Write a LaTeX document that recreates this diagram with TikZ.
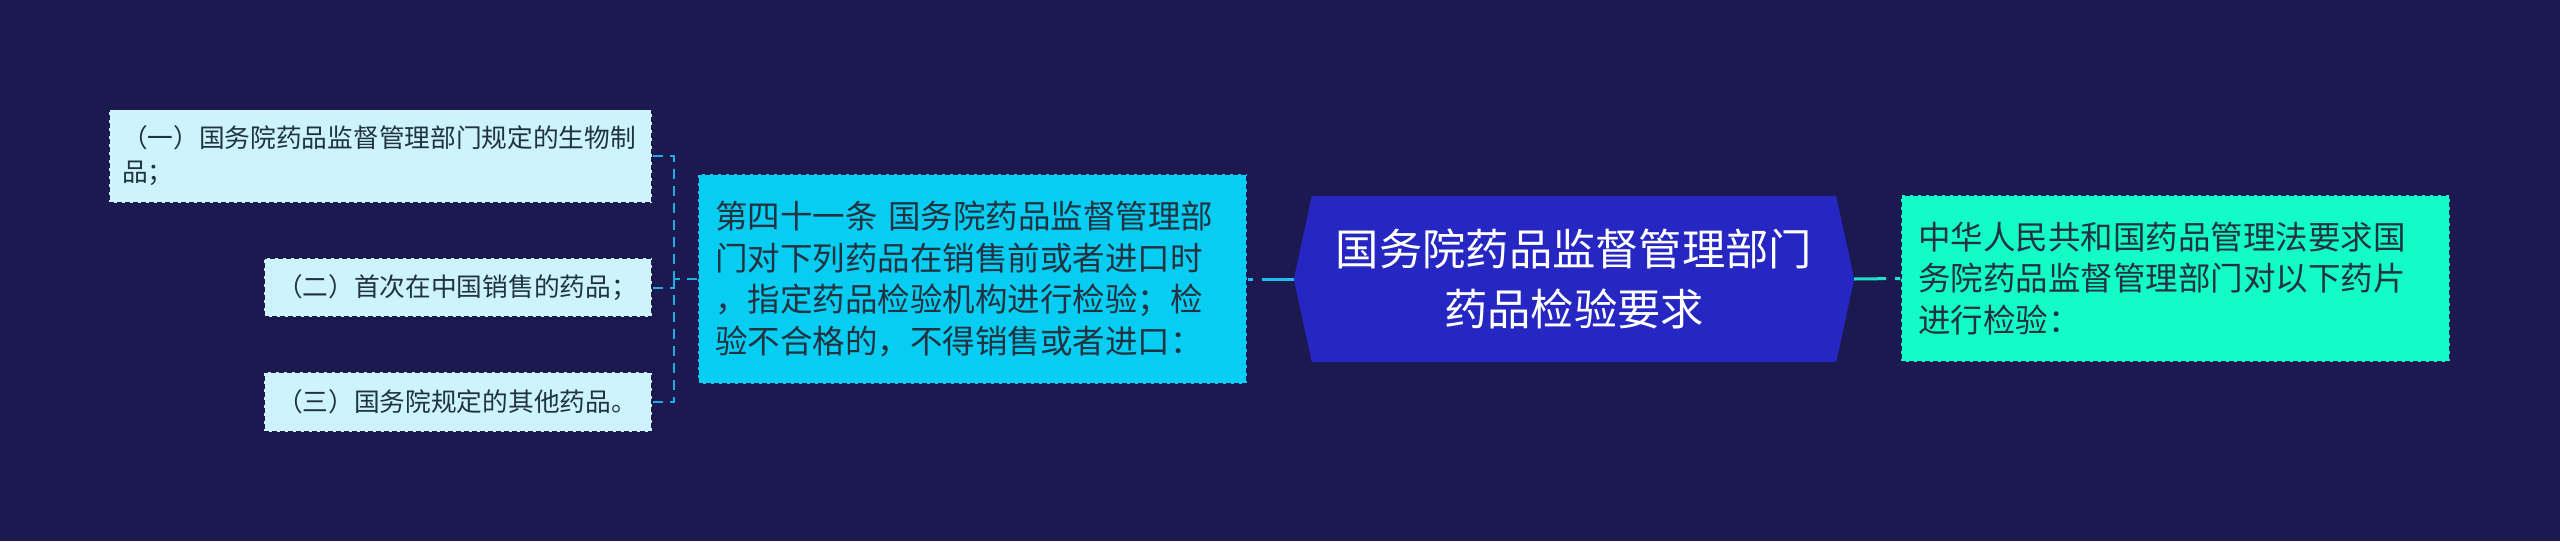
\documentclass[tikz,border=0pt]{standalone}
\usepackage{fontspec}
\newfontfamily\cjk{Noto Sans CJK SC}
\usetikzlibrary{backgrounds}
\definecolor{bgc}{HTML}{1B1950}
\definecolor{leaffill}{HTML}{CDF4FC}
\definecolor{midfill}{HTML}{08CDF3}
\definecolor{rootfill}{HTML}{2626C2}
\definecolor{rightfill}{HTML}{13FCC7}
\definecolor{txtdark}{HTML}{213240}
\definecolor{lineblue}{HTML}{22BDEA}
\definecolor{lineteal}{HTML}{1FE3C8}
\definecolor{bracketc}{HTML}{1EAEE2}
\begin{document}
\begin{tikzpicture}[x=1pt,y=-1pt,
  boxbase/.style={draw=bgc, line width=1.5pt, dash pattern=on 5pt off 3pt, text=txtdark, align=left, inner ysep=0pt},
  leaf/.style={boxbase, fill=leaffill, inner xsep=13pt, text width=#1,
    font=\cjk\fontsize{25.7}{34}\selectfont},
  midbox/.style={boxbase, fill=midfill, inner xsep=17pt, text width=#1,
    font=\cjk\fontsize{32.5}{41.7}\selectfont},
  rightbox/.style={boxbase, fill=rightfill, inner xsep=17pt, text width=#1,
    font=\cjk\fontsize{32.5}{41.7}\selectfont},
  rootbox/.style={text=white, align=center, inner sep=0pt, minimum width=560pt, minimum height=166pt,
    font=\cjk\fontsize{43.3}{60}\selectfont},
  conn/.style={line width=3pt, dash pattern=on 32pt off 9pt},
  brk/.style={draw=bracketc, line width=2pt, dash pattern=on 10pt off 7pt}
]
\useasboundingbox (0,0) rectangle (2560,541);
\begin{scope}[on background layer]
  \fill[bgc] (0,0) rectangle (2560,541);
\end{scope}

% root
\node[rootbox] (m) at (1574,279) {国务院药品监督管理部门\\药品检验要求};
\begin{scope}[on background layer]
  \fill[rootfill] (m.west) -- ([xshift=18pt]m.north west) -- ([xshift=-18pt]m.north east)
    -- (m.east) -- ([xshift=-18pt]m.south east) -- ([xshift=18pt]m.south west) -- cycle;
\end{scope}

% right
\node[rightbox=515pt, minimum height=167pt] (r) at (2175.5,278.5)
  {中华人民共和国药品管理法要求国\\务院药品监督管理部门对以下药片\\进行检验：};

% middle
\node[midbox=515pt, minimum height=210pt] (s) at (972.5,279)
  {第四十一条 国务院药品监督管理部\\门对下列药品在销售前或者进口时\\，指定药品检验机构进行检验；检\\验不合格的，不得销售或者进口：};

% leaves
\node[leaf=517pt, minimum height=93pt] (c1) at (380.5,156)
  {（一）国务院药品监督管理部门规定的生物制\\品；};
\node[leaf=362pt, minimum height=59pt] (c2) at (458,287.5)
  {（二）首次在中国销售的药品；};
\node[leaf=362pt, minimum height=60pt] (c3) at (458,402)
  {（三）国务院规定的其他药品。};

% connectors
\draw[conn, lineblue] (m.west) -- (s.east);
\draw[conn, lineteal] (m.east) -- (r.west);

\draw[brk] (s.west) -- ++(-23,0) coordinate (j);
\draw[brk] (c1.east) -| (j);
\draw[brk] (c2.east) -| (j);
\draw[brk] (c3.east) -| (j);
\end{tikzpicture}
\end{document}
